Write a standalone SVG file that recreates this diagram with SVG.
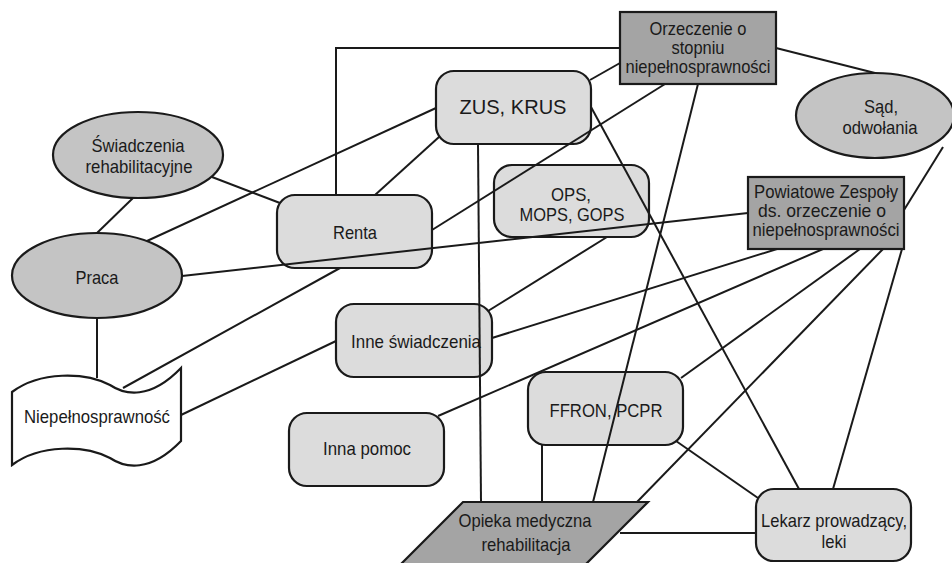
<svg xmlns="http://www.w3.org/2000/svg" width="952" height="563" viewBox="0 0 952 563">
<style>
.dk{fill:#a4a4a4;stroke:#1a1a1a;stroke-width:2.2}
.el{fill:#c4c4c4;stroke:#1a1a1a;stroke-width:2.2}
.rb{fill:#dcdcdc;stroke:#1a1a1a;stroke-width:2.2}
.wh{fill:#ffffff;stroke:#1a1a1a;stroke-width:2.2}
text{font-family:"Liberation Sans",Arial,sans-serif;font-size:19px;fill:#1a1a1a;text-anchor:middle}
.big{font-size:21px}
#connectors line,#connectors polyline{stroke:#1a1a1a;stroke-width:2;fill:none}
</style>
<rect width="952" height="563" fill="#ffffff"/>
<g id="nodes">
<g id="orzeczenie">
<rect class="dk" x="620" y="12" width="156" height="72"/>
<text x="698" y="35" textLength="97" lengthAdjust="spacingAndGlyphs">Orzeczenie o</text>
<text x="698" y="54" textLength="53" lengthAdjust="spacingAndGlyphs">stopniu</text>
<text x="698" y="73" textLength="145" lengthAdjust="spacingAndGlyphs">niepełnosprawności</text>
</g>
<g id="zus">
<rect class="rb" x="436" y="71" width="155" height="73" rx="18"/>
<text class="big" x="513" y="114" textLength="107" lengthAdjust="spacingAndGlyphs">ZUS, KRUS</text>
</g>
<g id="sad">
<ellipse class="el" cx="875" cy="115.5" rx="79" ry="42.5"/>
<text x="881" y="113" textLength="34" lengthAdjust="spacingAndGlyphs">Sąd,</text>
<text x="880" y="134" textLength="75" lengthAdjust="spacingAndGlyphs">odwołania</text>
</g>
<g id="swiadczenia">
<ellipse class="el" cx="138" cy="155" rx="85" ry="43"/>
<text x="138" y="152" textLength="93" lengthAdjust="spacingAndGlyphs">Świadczenia</text>
<text x="139" y="173" textLength="107" lengthAdjust="spacingAndGlyphs">rehabilitacyjne</text>
</g>
<g id="renta">
<rect class="rb" x="277" y="195" width="155" height="73" rx="18"/>
<text x="355" y="239" textLength="44" lengthAdjust="spacingAndGlyphs">Renta</text>
</g>
<g id="ops">
<rect class="rb" x="494" y="165" width="155" height="72" rx="18"/>
<text x="571" y="201" textLength="40" lengthAdjust="spacingAndGlyphs">OPS,</text>
<text x="572" y="221" textLength="105" lengthAdjust="spacingAndGlyphs">MOPS, GOPS</text>
</g>
<g id="powiatowe">
<rect class="dk" x="748" y="177" width="156" height="72"/>
<text x="826" y="198" textLength="144" lengthAdjust="spacingAndGlyphs">Powiatowe Zespoły</text>
<text x="822" y="217" textLength="128" lengthAdjust="spacingAndGlyphs">ds. orzeczenie o</text>
<text x="826" y="236" textLength="147" lengthAdjust="spacingAndGlyphs">niepełnosprawności</text>
</g>
<g id="praca">
<ellipse class="el" cx="97" cy="275.5" rx="85" ry="42.5"/>
<text x="97" y="284" textLength="43" lengthAdjust="spacingAndGlyphs">Praca</text>
</g>
<g id="niepelnosprawnosc">
<path class="wh" d="M12,392 C40,371 85,372 110,385 C125,395 150,400 181,368 L181,441 C150,473 125,468 110,458 C85,445 40,444 12,465 Z"/>
<text x="97" y="423" textLength="146" lengthAdjust="spacingAndGlyphs">Niepełnosprawność</text>
</g>
<g id="inne-swiadczenia">
<rect class="rb" x="336" y="304" width="156" height="73" rx="18"/>
<text x="416" y="348" textLength="130" lengthAdjust="spacingAndGlyphs">Inne świadczenia</text>
</g>
<g id="inna-pomoc">
<rect class="rb" x="289" y="413" width="155" height="73" rx="18"/>
<text x="367" y="455" textLength="88" lengthAdjust="spacingAndGlyphs">Inna pomoc</text>
</g>
<g id="ffron">
<rect class="rb" x="528" y="372" width="155" height="73" rx="18"/>
<text x="606" y="417" textLength="113" lengthAdjust="spacingAndGlyphs">FFRON, PCPR</text>
</g>
<g id="lekarz">
<rect class="rb" x="756" y="489" width="155" height="72" rx="18"/>
<text x="834" y="527" textLength="146" lengthAdjust="spacingAndGlyphs">Lekarz prowadzący,</text>
<text x="834" y="548" textLength="25" lengthAdjust="spacingAndGlyphs">leki</text>
</g>
<g id="opieka">
<polygon class="dk" points="463,502 648,502 586,564 401,564"/>
<text x="525" y="527" textLength="133" lengthAdjust="spacingAndGlyphs">Opieka medyczna</text>
<text x="526" y="551" textLength="89" lengthAdjust="spacingAndGlyphs">rehabilitacja</text>
</g>
</g>
<g id="connectors">
<polyline points="336,195 336,48 620,48"/>
<line x1="436" y1="108" x2="147" y2="241"/>
<line x1="439" y1="137" x2="375" y2="195"/>
<line x1="212" y1="177" x2="280" y2="203"/>
<line x1="133" y1="198" x2="97" y2="233"/>
<line x1="432" y1="230" x2="665" y2="84"/>
<line x1="182" y1="276" x2="748" y2="213"/>
<line x1="590" y1="80" x2="620" y2="63"/>
<line x1="776" y1="48" x2="875" y2="73"/>
<line x1="478" y1="144" x2="481" y2="502"/>
<line x1="591" y1="107" x2="799" y2="489"/>
<line x1="698" y1="84" x2="593" y2="502"/>
<line x1="943" y1="147" x2="904" y2="210"/>
<line x1="607" y1="237" x2="488" y2="311"/>
<line x1="777" y1="249" x2="492" y2="338"/>
<line x1="823" y1="249" x2="438" y2="416"/>
<line x1="860" y1="249" x2="681" y2="378"/>
<line x1="883" y1="249" x2="637" y2="502"/>
<line x1="902" y1="249" x2="833" y2="489"/>
<line x1="542" y1="445" x2="542" y2="502"/>
<line x1="676" y1="441" x2="758" y2="498"/>
<line x1="620" y1="533" x2="756" y2="533"/>
<line x1="97" y1="318" x2="97" y2="378"/>
<line x1="123" y1="388" x2="340" y2="268"/>
<line x1="181" y1="415" x2="336" y2="341"/>
</g>
</svg>
